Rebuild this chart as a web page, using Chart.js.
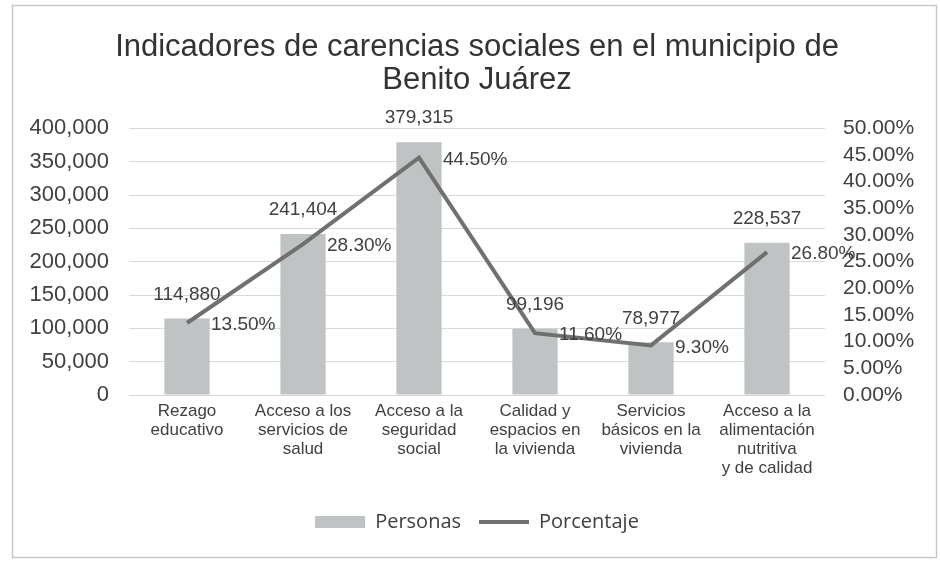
<!DOCTYPE html>
<html>
<head>
<meta charset="utf-8">
<script src="https://cdn.jsdelivr.net/npm/chart.js@4.4.1/dist/chart.umd.min.js"></script>
<style>
  html, body { margin: 0; padding: 0; background: #fff; }
  #chart { display: block; }
</style>
</head>
<body>
<canvas id="chart" width="940" height="562"></canvas>
<script>
'use strict';

// categories (multi-line labels)
var categorias = [
  ['Rezago', 'educativo'],
  ['Acceso a los', 'servicios de', 'salud'],
  ['Acceso a la', 'seguridad', 'social'],
  ['Calidad y', 'espacios en', 'la vivienda'],
  ['Servicios', 'básicos en la', 'vivienda'],
  ['Acceso a la', 'alimentación', 'nutritiva', 'y de calidad']
];
var personas = [114880, 241404, 379315, 99196, 78977, 228537];
var porcentaje = [13.5, 28.3, 44.5, 11.6, 9.3, 26.8];

var TEXT_COLOR = '#404040';
var FONT = '"Liberation Sans", Arial, sans-serif';

function fmtMiles(v) {
  return Number(v).toLocaleString('en-US');
}
function fmtPct(v) {
  return Number(v).toFixed(2) + '%';
}

// border round the whole chart, like the excel chart frame
var framePlugin = {
  id: 'frame',
  beforeDraw: function(chart) {
    var ctx = chart.ctx;
    ctx.save();
    ctx.fillStyle = '#fff';
    ctx.fillRect(0, 0, chart.width, chart.height);
    ctx.strokeStyle = '#c8c8c8';
    ctx.lineWidth = 1.5;
    ctx.strokeRect(12.5, 5.5, 924, 552);
    ctx.restore();
  }
};

// value labels: above bars, to the right of line points
var labelsPlugin = {
  id: 'valueLabels',
  afterDatasetsDraw: function(chart) {
    var ctx = chart.ctx;
    ctx.save();
    ctx.fillStyle = TEXT_COLOR;
    ctx.font = '19px ' + FONT;
    ctx.textBaseline = 'middle';

    var barMeta = chart.getDatasetMeta(0);
    ctx.textAlign = 'center';
    barMeta.data.forEach(function(el, i) {
      ctx.fillText(fmtMiles(personas[i]), el.x, el.y - 24);
    });

    var lineMeta = chart.getDatasetMeta(1);
    ctx.textAlign = 'left';
    lineMeta.data.forEach(function(el, i) {
      ctx.fillText(fmtPct(porcentaje[i]), el.x + 24, el.y + 2);
    });
    ctx.restore();
  }
};

var ctx = document.getElementById('chart').getContext('2d');

var myChart = new Chart(ctx, {
  type: 'bar',
  data: {
    labels: categorias,
    datasets: [
      {
        label: 'Personas',
        data: personas,
        yAxisID: 'y',
        backgroundColor: '#bfc3c4',
        barPercentage: 0.39,
        categoryPercentage: 1,
        order: 2,
        pointStyle: 'rect'
      },
      {
        type: 'line',
        label: 'Porcentaje',
        data: porcentaje,
        yAxisID: 'y2',
        borderColor: '#707070',
        backgroundColor: '#707070',
        borderWidth: 4,
        pointRadius: 0,
        tension: 0,
        order: 1,
        pointStyle: 'line'
      }
    ]
  },
  options: {
    responsive: false,
    animation: false,
    devicePixelRatio: 1,
    layout: { padding: { left: 22, right: 8, top: 4, bottom: 20 } },
    plugins: {
      tooltip: { enabled: false },
      title: {
        display: true,
        text: ['Indicadores de carencias sociales en el municipio de', 'Benito Juárez'],
        color: '#333',
        font: { family: FONT, size: 31, weight: 'normal', lineHeight: 1.07 },
        padding: { top: 27, bottom: 31 }
      },
      legend: {
        position: 'bottom',
        labels: {
          usePointStyle: true,
          pointStyleWidth: 50,
          boxHeight: 12,
          color: TEXT_COLOR,
          padding: 18,
          font: { family: '"Open Sans", sans-serif', size: 20 },
          sort: function(a, b) { return a.datasetIndex - b.datasetIndex; }
        }
      }
    },
    scales: {
      x: {
        grid: { display: false, drawTicks: false },
        border: { display: false },
        ticks: {
          color: TEXT_COLOR,
          font: { family: FONT, size: 17, lineHeight: 1.12 },
          maxRotation: 0,
          autoSkip: false,
          padding: 7
        },
        afterFit: function(scale) { scale.height = 99; }
      },
      y: {
        position: 'left',
        min: 0,
        max: 400000,
        grid: { color: '#d9d9d9', drawTicks: false },
        border: { display: false },
        ticks: {
          stepSize: 50000,
          autoSkip: false,
          color: TEXT_COLOR,
          padding: 20,
          font: { family: FONT, size: 22 },
          callback: function(v) { return fmtMiles(v); }
        },
        afterFit: function(scale) { scale.width = 107; }
      },
      y2: {
        position: 'right',
        min: 0,
        max: 50,
        grid: { display: false, drawTicks: false },
        border: { display: false },
        ticks: {
          stepSize: 5,
          autoSkip: false,
          color: TEXT_COLOR,
          padding: 18,
          font: { family: FONT, size: 21 },
          callback: function(v) { return fmtPct(v); }
        },
        afterFit: function(scale) { scale.width = 107; }
      }
    }
  },
  plugins: [framePlugin, labelsPlugin]
});
</script>
</body>
</html>
